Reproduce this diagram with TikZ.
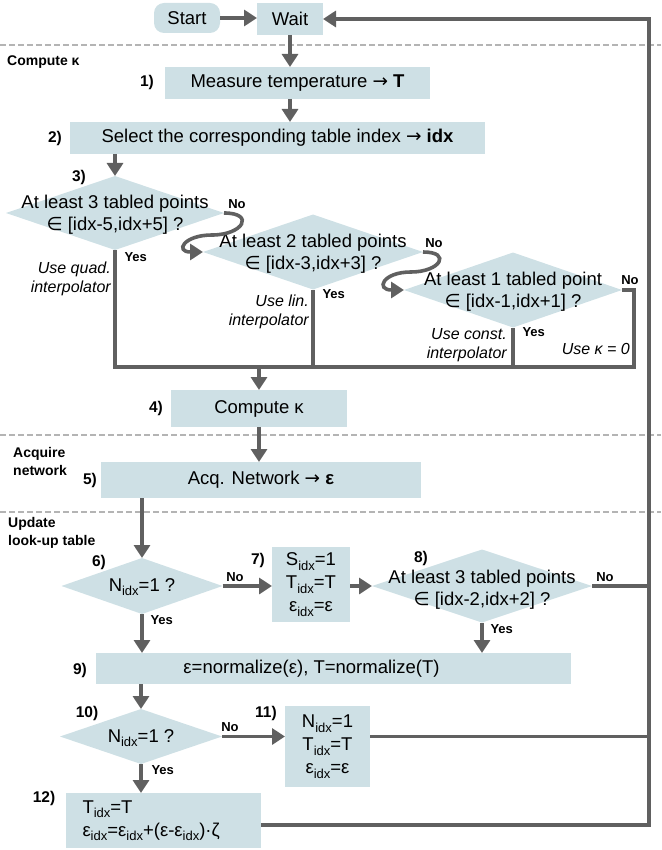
\documentclass[tikz,border=0pt]{standalone}
\usepackage{fontspec}
\setmainfont{Liberation Sans}
\newfontfamily\symf{DejaVu Sans}
\usetikzlibrary{arrows.meta,shapes.geometric}
\definecolor{boxc}{RGB}{206,224,229}
\definecolor{linec}{RGB}{96,96,96}
\definecolor{dashc}{RGB}{180,180,180}
\newcommand\sbx[1]{\raisebox{-4.5pt}{\fontsize{13}{13}\selectfont #1}}
\newcommand\ar{{\symf →}}
\newcommand\isin{{\symf ∈}}
\begin{document}
\begin{tikzpicture}[x=1pt,y=-1pt,
    box/.style={fill=boxc,inner sep=0pt,outer sep=0pt,align=center,font=\fontsize{18.5}{23}\selectfont},
    dia/.style={diamond,fill=boxc,inner sep=0pt,outer sep=0pt},
    dtxt/.style={align=center,font=\fontsize{18.5}{22}\selectfont},
    num/.style={font=\bfseries\fontsize{15.5}{15.5}\selectfont},
    yn/.style={font=\bfseries\fontsize{13}{13}\selectfont},
    note/.style={anchor=east,align=right,inner sep=0pt,font=\itshape\fontsize{16}{19}\selectfont},
    sec/.style={anchor=west,align=left,inner sep=0pt,font=\bfseries\fontsize{14}{18}\selectfont},
    flow/.style={draw=linec,line width=3.6pt,-{Triangle[length=13pt,width=16pt]}},
    wire/.style={draw=linec,line width=3.6pt},
    divider/.style={draw=dashc,line width=2pt,dash pattern=on 6pt off 3pt}]
    \useasboundingbox (0,0) rectangle (661,850);
    \draw[divider] (0,45) -- (661,45);
    \draw[divider] (0,435) -- (661,435);
    \draw[divider] (0,512) -- (661,512);
    \node[sec] (s1) at (7,62) {Compute κ};
    \node[sec] (s2) at (13,461) {Acquire\\network};
    \node[sec] (s3) at (8,533) {Update\\look-up table};

    \node[box,rounded corners=10pt,minimum width=66pt,minimum height=30pt] (St) at (187,18) {Start};
    \node[box,minimum width=66pt,minimum height=32pt] (W) at (290,19) {Wait};
    \draw[flow] (St.east) -- (St.east -| W.west);

    \node[box,minimum width=265pt,minimum height=32pt] (B1) at (297.5,83) {Measure temperature \ar{} \textbf{T}};
    \node[num] (n1) at (147,82) {1)};
    \draw[flow] (W) -- (W |- B1.north);
    \node[box,minimum width=415pt,minimum height=32pt] (B2) at (277.5,138) {Select the corresponding table index \ar{} \textbf{idx}};
    \node[num] (n2) at (55,138) {2)};
    \draw[flow] (W |- B1.south) -- (W |- B2.north);

    \node[dia,minimum width=218pt,minimum height=74pt] (D3a) at (115,213) {};
    \node[dtxt] (D3at) at (115,215) {At least 3 tabled points\\\isin{} [idx-5,idx+5] ?};
    \node[num] (n3) at (79,177) {3)};
    \draw[flow] (D3a |- B2.south) -- (D3a.north);
    \node[dia,minimum width=220pt,minimum height=75pt] (D3b) at (313,252) {};
    \node[dtxt] (D3bt) at (313,254) {At least 2 tabled points\\\isin{} [idx-3,idx+3] ?};
    \node[dia,minimum width=218pt,minimum height=75pt] (D3c) at (513,290) {};
    \node[dtxt] (D3ct) at (513,292) {At least 1 tabled point\\\isin{} [idx-1,idx+1] ?};
    \draw[flow] (D3a.east) to[out=0,in=0,looseness=3.2] ++(-12,22) to[out=180,in=180,looseness=3.8] (D3b.west);
    \draw[flow] (D3b.east) to[out=0,in=0,looseness=3.2] ++(-12,20) to[out=180,in=180,looseness=3.8] (D3c.west);
    \node[yn] (no1) at (237,204) {No};
    \node[yn] (no2) at (434,243) {No};
    \node[yn] (no3) at (630,280) {No};
    \node[yn,anchor=west] (ye1) at (121,257) {Yes};
    \node[yn,anchor=west] (ye2) at (319,294) {Yes};
    \node[yn,anchor=west] (ye3) at (519,332) {Yes};
    \node[note] (u1) at (111,279) {Use quad.\\interpolator};
    \node[note] (u2) at (309,312) {Use lin.\\interpolator};
    \node[note] (u3) at (507,345) {Use const.\\interpolator};
    \node[note] (u4) at (630,349) {Use κ = 0};

    \coordinate (K) at (634,367);
    \coordinate (J) at (259,367);
    \draw[wire] (D3a.south) |- (K) |- (D3c.east);
    \draw[wire] (D3b.south) -- (D3b.south |- K);
    \draw[wire] (D3c.south) -- (D3c.south |- K);
    \node[box,minimum width=176pt,minimum height=37pt] (B4) at (259,408.5) {Compute κ};
    \node[num] (n4) at (156,408) {4)};
    \draw[flow] (J) -- (J |- B4.north);
    \node[box,minimum width=320pt,minimum height=36pt] (B5) at (261,480) {Acq. Network \ar{} \textbf{ε}};
    \node[num] (n5) at (90,480) {5)};
    \draw[flow] (B4) -- (B4 |- B5.north);

    \node[dia,minimum width=161pt,minimum height=56pt] (D6) at (142,586) {};
    \node[dtxt] (D6t) at (142,587) {N\sbx{idx}=1 ?};
    \node[num] (n6) at (99,562) {6)};
    \draw[flow] (D6 |- B5.south) -- (D6.north);
    \node[box,minimum width=78pt,minimum height=75pt] (B7) at (311,584.5) {S\sbx{idx}=1\\T\sbx{idx}=T\\ε\sbx{idx}=ε};
    \node[num] (n7) at (258,560) {7)};
    \draw[flow] (D6.east) -- (D6.east -| B7.west);
    \node[yn] (no6) at (235,577) {No};
    \node[dia,minimum width=220pt,minimum height=73pt] (D8) at (482,586) {};
    \node[dtxt] (D8t) at (482,590) {At least 3 tabled points\\\isin{} [idx-2,idx+2] ?};
    \node[num] (n8) at (421,558) {8)};
    \draw[flow] (B7.east |- D8) -- (D8.west);
    \node[yn] (no8) at (605,577) {No};

    \coordinate (L) at (649,825);
    \draw[wire] (D8.east) -- (D8.east -| L);
    \node[box,minimum width=475pt,minimum height=31pt] (B9) at (333.5,668.5) {ε=normalize(ε), T=normalize(T)\hspace*{44pt}};
    \node[num] (n9) at (80,670) {9)};
    \draw[flow] (D6.south) -- (D6.south |- B9.north);
    \node[yn,anchor=west] (ye6) at (147,620) {Yes};
    \draw[flow] (D8.south) -- (D8.south |- B9.north);
    \node[yn,anchor=west] (ye8) at (487,629) {Yes};

    \node[dia,minimum width=162pt,minimum height=55pt] (D10) at (141,736.5) {};
    \node[dtxt] (D10t) at (141,738) {N\sbx{idx}=1 ?};
    \node[num] (n10) at (87,713) {10)};
    \draw[flow] (D10 |- B9.south) -- (D10.north);
    \node[box,minimum width=85pt,minimum height=81pt] (B11) at (327.5,746.5) {N\sbx{idx}=1\\T\sbx{idx}=T\\ε\sbx{idx}=ε};
    \node[num] (n11) at (266,713) {11)};
    \draw[flow] (D10.east) -- (D10.east -| B11.west);
    \node[yn] (no10) at (230,727) {No};
    \draw[wire] (D10.east -| B11.east) -- (D10.east -| L);
    \node[box,minimum width=195pt,minimum height=55pt,text width=162pt,align=left] (B12) at (163.5,820.5) {T\sbx{idx}=T\\ε\sbx{idx}=ε\sbx{idx}+(ε-ε\sbx{idx})·ζ};
    \node[num] (n12) at (44,798) {12)};
    \draw[flow] (D10.south) -- (D10.south |- B12.north);
    \node[yn,anchor=west] (ye10) at (148,770) {Yes};
    \draw[flow] (B12.east |- L) -- (L) |- (W.east);
\end{tikzpicture}
\end{document}
